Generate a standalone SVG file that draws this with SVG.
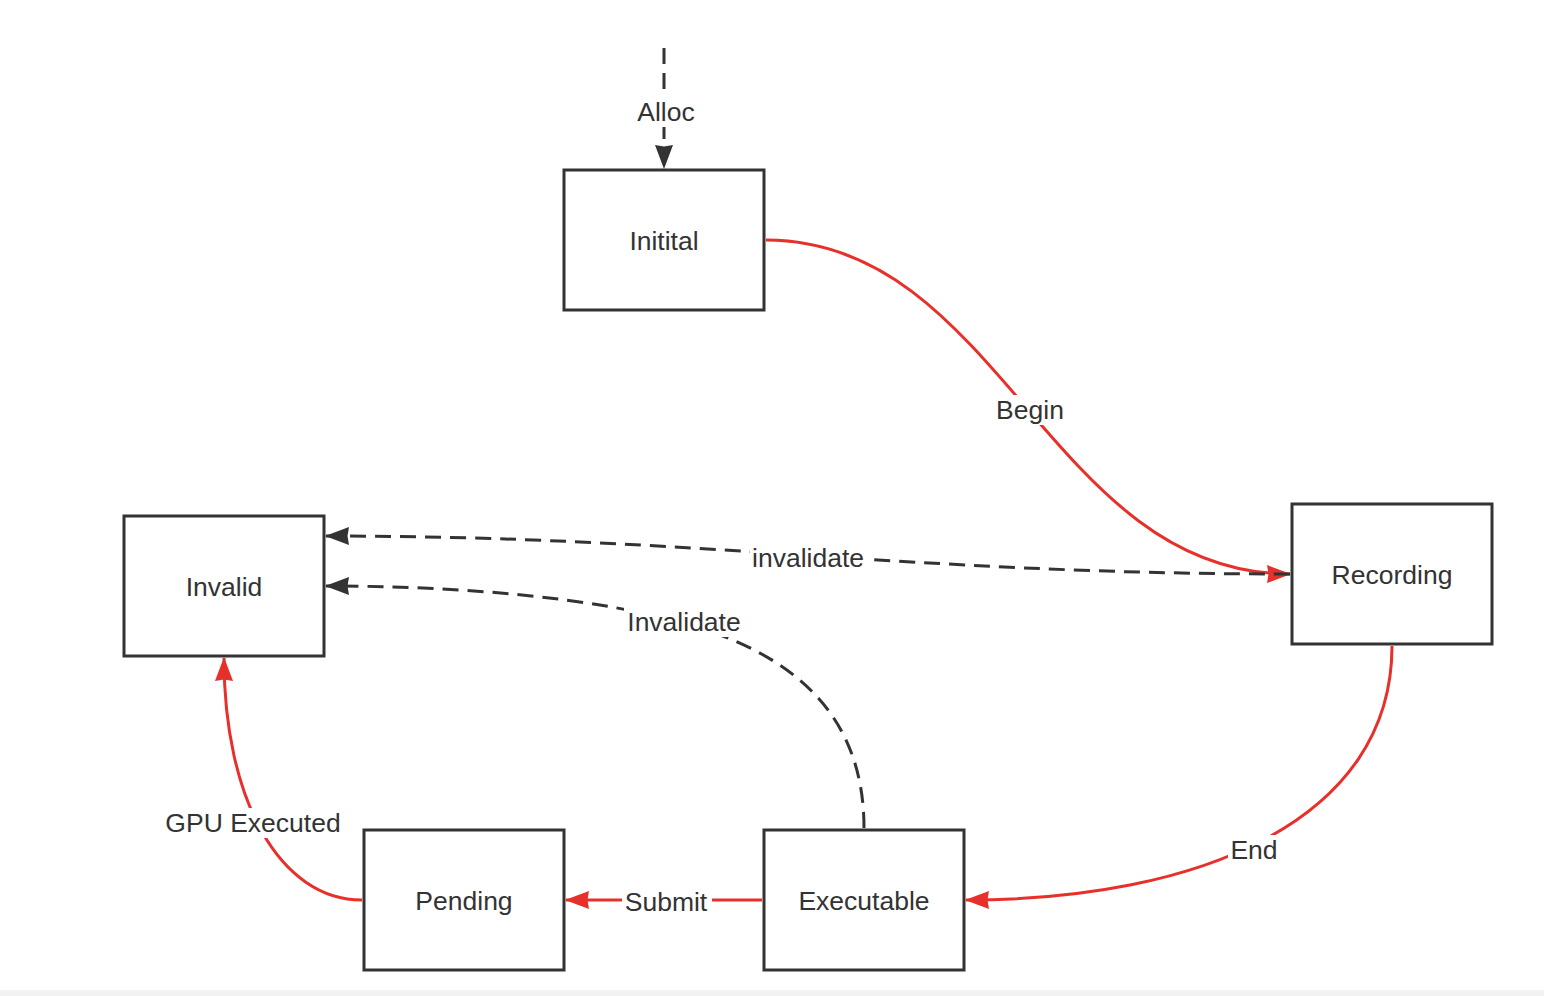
<svg xmlns="http://www.w3.org/2000/svg" width="1544" height="996" viewBox="0 0 1544 996">
<style>
.box{fill:#fff;stroke:#333;stroke-width:3}
.t{font-family:"Liberation Sans",Arial,sans-serif;font-size:26.5px;fill:#333;text-anchor:middle;dominant-baseline:central}
.red{fill:none;stroke:#e8302a;stroke-width:3}
.dash{fill:none;stroke:#333;stroke-width:3;stroke-dasharray:16 9}
.lbg{fill:#fff}
</style>
<defs>
<marker id="ar" viewBox="0 0 24 18" refX="23" refY="9" markerWidth="24" markerHeight="18" markerUnits="userSpaceOnUse" orient="auto">
<path d="M0,0 L24,9 L0,18 L1.5,9 Z" fill="#e8302a"/>
</marker>
<marker id="ad" viewBox="0 0 24 18" refX="23" refY="9" markerWidth="24" markerHeight="18" markerUnits="userSpaceOnUse" orient="auto">
<path d="M0,0 L24,9 L0,18 L1.5,9 Z" fill="#333"/>
</marker>
</defs>
<rect x="0" y="0" width="1544" height="996" fill="#fff"/>
<rect x="0" y="990" width="1544" height="6" fill="#f2f2f2"/>
<g id="connectors">
<g id="e-alloc">
<path class="dash" d="M664,48 L664,168" marker-end="url(#ad)"/>
<rect class="lbg" x="632" y="97" width="68" height="30"/>
<text class="t" x="666" y="112">Alloc</text>
</g>
<g id="e-begin">
<path class="red" d="M766,240 C1000,240 1050,574 1290,574" marker-end="url(#ar)"/>
<rect class="lbg" x="992" y="395" width="76" height="30"/>
<text class="t" x="1030" y="410">Begin</text>
</g>
<g id="e-invalidate1">
<path class="dash" d="M1290,574 C900,574 700,536 326,536" marker-end="url(#ad)"/>
<rect class="lbg" x="750" y="543" width="118" height="30"/>
<text class="t" x="808" y="558">invalidate</text>
</g>
<g id="e-invalidate2">
<path class="dash" d="M864,828 C864,720 800,660 700,628 C600,596 450,586 326,586" marker-end="url(#ad)"/>
<rect class="lbg" x="624" y="607" width="120" height="30"/>
<text class="t" x="684" y="622">Invalidate</text>
</g>
<g id="e-end">
<path class="red" d="M1392,646 C1392,820 1200,900 966,900" marker-end="url(#ar)"/>
<rect class="lbg" x="1228" y="835" width="54" height="30"/>
<text class="t" x="1254" y="850">End</text>
</g>
<g id="e-submit">
<path class="red" d="M762,900 L566,900" marker-end="url(#ar)"/>
<rect class="lbg" x="622" y="887" width="90" height="30"/>
<text class="t" x="666" y="902">Submit</text>
</g>
<g id="e-gpu">
<path class="red" d="M362,900 C280,900 224,800 224,658" marker-end="url(#ar)"/>
<rect class="lbg" x="162" y="808" width="182" height="30"/>
<text class="t" x="253" y="823">GPU Executed</text>
</g>
</g>
<g id="n-initial"><rect class="box" x="564" y="170" width="200" height="140"/><text class="t" x="664" y="241">Initital</text></g>
<g id="n-recording"><rect class="box" x="1292" y="504" width="200" height="140"/><text class="t" x="1392" y="575">Recording</text></g>
<g id="n-invalid"><rect class="box" x="124" y="516" width="200" height="140"/><text class="t" x="224" y="587">Invalid</text></g>
<g id="n-pending"><rect class="box" x="364" y="830" width="200" height="140"/><text class="t" x="464" y="901">Pending</text></g>
<g id="n-executable"><rect class="box" x="764" y="830" width="200" height="140"/><text class="t" x="864" y="901">Executable</text></g>
</svg>
